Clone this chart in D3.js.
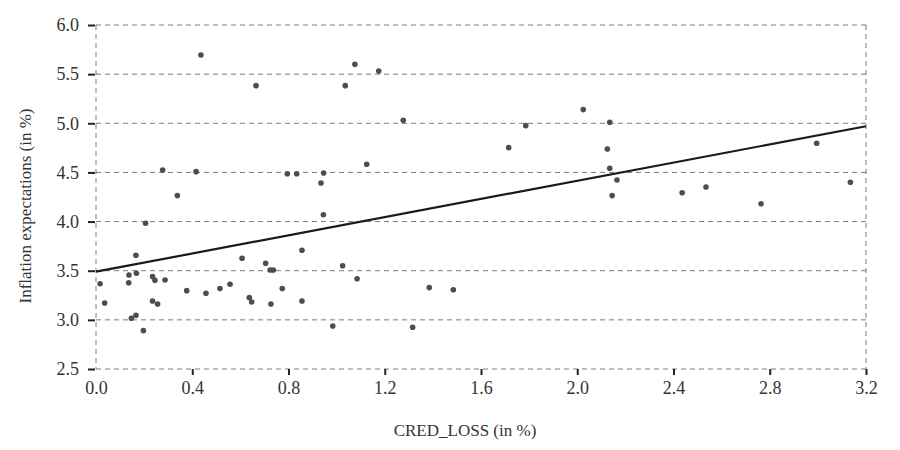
<!DOCTYPE html>
<html>
<head>
<meta charset="utf-8">
<script src="https://cdn.jsdelivr.net/npm/d3@7"></script>
<style>
  body { margin: 0; background: #fff; }
  svg { display: block; }
</style>
</head>
<body>
<svg id="svg"></svg>
<script>
// CRED_LOSS (in %) vs inflation expectations (in %)
const credLoss = [
  0.436, 0.665, 0.277, 0.416, 0.338, 0.795, 0.834,
  0.206, 0.166, 0.017, 0.036, 0.137, 0.136, 0.168, 0.147, 0.166, 0.197,
  0.235, 0.245, 0.287, 0.235, 0.256, 0.377, 0.457, 0.515, 0.557, 0.607,
  0.637, 0.647, 0.705, 0.724, 0.737, 0.727, 0.774,
  0.946, 0.935, 1.036, 1.076, 1.175, 1.277, 1.125, 1.715, 1.786,
  0.945, 0.856, 1.025, 1.085, 0.856, 0.984, 1.316, 1.385, 1.485,
  2.025, 2.135, 2.125, 2.135, 2.165, 2.145, 2.436, 2.535, 2.764, 2.995, 3.135
];
const inflExp = [
  5.695, 5.383, 4.525, 4.508, 4.264, 4.487, 4.487,
  3.983, 3.657, 3.368, 3.172, 3.457, 3.378, 3.474, 3.016, 3.047, 2.890,
  3.440, 3.403, 3.406, 3.192, 3.162, 3.297, 3.270, 3.318, 3.362, 3.627,
  3.226, 3.182, 3.576, 3.508, 3.508, 3.162, 3.318,
  4.494, 4.393, 5.383, 5.600, 5.532, 5.030, 4.583, 4.752, 4.976,
  4.070, 3.708, 3.551, 3.419, 3.192, 2.938, 2.925, 3.328, 3.307,
  5.139, 5.010, 4.739, 4.542, 4.423, 4.264, 4.294, 4.352, 4.182, 4.797, 4.400
];

// fitted line, read at both ends of the x range
const fitX = [0, 3.2];
const fitY = [3.49, 4.97];

const xTicks = [0, 0.4, 0.8, 1.2, 1.6, 2.0, 2.4, 2.8, 3.2];
const yTicks = [2.5, 3.0, 3.5, 4.0, 4.5, 5.0, 5.5, 6.0];

let layout = {"width": 900,
              "height": 450,
              "left": 96,
              "right": 866,
              "top": 25,
              "bottom": 369};

let svg = d3.select("#svg")
            .attr("width", layout.width)
            .attr("height", layout.height);

let xScale = d3.scaleLinear()
               .domain([0, 3.2])
               .range([layout.left, layout.right]);

let yScale = d3.scaleLinear()
               .domain([2.5, 6.0])
               .range([layout.bottom, layout.top]);

const font = "'Liberation Serif', 'Times New Roman', serif";
const textColor = "#333";

// horizontal dashed grid
svg.append("g")
   .selectAll("line")
   .data(yTicks)
   .join("line")
   .attr("x1", layout.left)
   .attr("x2", layout.right)
   .attr("y1", d => yScale(d))
   .attr("y2", d => yScale(d))
   .attr("stroke", "#7a7a7a")
   .attr("stroke-width", 1)
   .attr("stroke-dasharray", "5,4");

// vertical dashed borders at both ends
svg.append("g")
   .selectAll("line")
   .data([0, 3.2])
   .join("line")
   .attr("x1", d => xScale(d))
   .attr("x2", d => xScale(d))
   .attr("y1", layout.top)
   .attr("y2", layout.bottom)
   .attr("stroke", "#7a7a7a")
   .attr("stroke-width", 1)
   .attr("stroke-dasharray", "5,4");

// y axis: small dark ticks + labels
let yAxis = svg.append("g")
               .attr("transform", `translate(${layout.left - 1}, 0)`)
               .call(d3.axisLeft(yScale).tickValues(yTicks).tickFormat(d3.format(".1f")).tickSize(7).tickPadding(9));
yAxis.select(".domain").remove();
yAxis.selectAll(".tick line").attr("stroke", "#222").attr("stroke-width", 2);
yAxis.selectAll(".tick text")
     .attr("font-family", font)
     .attr("font-size", 18)
     .attr("fill", textColor);

// x axis
let xAxis = svg.append("g")
               .attr("transform", `translate(0, ${layout.bottom})`)
               .call(d3.axisBottom(xScale).tickValues(xTicks).tickFormat(d3.format(".1f")).tickSize(6).tickPadding(6));
xAxis.select(".domain").remove();
xAxis.selectAll(".tick line")
     .attr("stroke", "#222")
     .attr("stroke-width", 2)
     .attr("display", d => d === 0 ? "none" : null);
xAxis.selectAll(".tick text")
     .attr("font-family", font)
     .attr("font-size", 18)
     .attr("fill", textColor);

// points
svg.append("g")
   .selectAll("circle")
   .data(credLoss.map((d, i) => ({x: d, y: inflExp[i]})))
   .join("circle")
   .attr("cx", d => xScale(d.x))
   .attr("cy", d => yScale(d.y))
   .attr("r", 2.8)
   .attr("fill", "#4d4d4d");

// regression line
svg.append("path")
   .datum(fitX.map((d, i) => [d, fitY[i]]))
   .attr("d", d3.line().x(d => xScale(d[0])).y(d => yScale(d[1])))
   .attr("fill", "none")
   .attr("stroke", "#1a1a1a")
   .attr("stroke-width", 2.2);

// axis titles
svg.append("text")
   .attr("x", 465)
   .attr("y", 436)
   .attr("text-anchor", "middle")
   .attr("font-family", font)
   .attr("font-size", 17)
   .attr("fill", textColor)
   .text("CRED_LOSS (in %)");

svg.append("text")
   .attr("transform", "translate(31, 206) rotate(-90)")
   .attr("text-anchor", "middle")
   .attr("font-family", font)
   .attr("font-size", 17)
   .attr("fill", textColor)
   .text("Inflation expectations (in %)");
</script>
</body>
</html>
